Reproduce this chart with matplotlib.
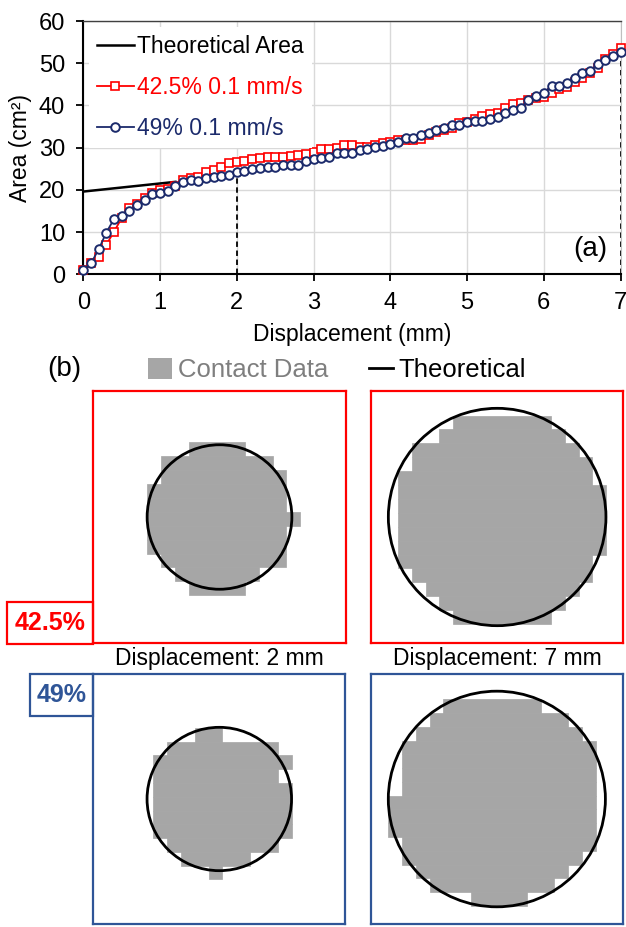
import matplotlib
matplotlib.use('Agg')
import numpy as np
import matplotlib.pyplot as plt
from matplotlib.patches import Patch, Circle, Rectangle
from matplotlib.lines import Line2D

plt.rcParams['font.family'] = ['Liberation Sans', 'DejaVu Sans']

# ---- panel (a) data: contact area vs displacement, one point every 0.1 mm
disp = np.round(np.arange(0, 7.01, 0.1), 1)
area_425 = [1.0, 2.6, 4.2, 7.0, 10.1, 13.3, 15.6, 16.7, 18.0, 19.2,
            20.0, 20.1, 20.8, 22.3, 22.7, 23.1, 24.3, 24.7, 25.5, 26.3,
            26.5, 26.9, 27.3, 27.5, 27.7, 27.9, 27.9, 28.0, 28.3, 28.5,
            29.0, 29.6, 29.6, 30.0, 30.6, 30.6, 30.2, 30.2, 30.6, 31.0,
            31.4, 31.8, 31.8, 31.8, 32.0, 33.0, 33.8, 34.2, 34.6, 35.8,
            36.1, 36.9, 37.5, 38.0, 38.3, 39.3, 40.3, 40.6, 41.3, 41.7,
            41.9, 42.9, 43.8, 44.4, 45.6, 46.6, 47.6, 48.8, 50.9, 52.3,
            53.7]
area_49 = [1.0, 2.6, 5.9, 9.9, 13.1, 13.8, 15.1, 16.3, 17.6, 19.0,
           19.2, 19.7, 20.9, 21.8, 22.3, 22.1, 22.7, 23.0, 23.4, 23.6,
           24.3, 24.5, 24.9, 25.1, 25.3, 25.3, 25.9, 26.0, 26.0, 26.8,
           27.2, 27.5, 27.9, 28.7, 28.7, 28.8, 29.4, 29.7, 30.1, 30.5,
           30.9, 31.4, 32.4, 32.4, 33.0, 33.4, 34.2, 34.6, 35.4, 35.4,
           36.0, 36.2, 36.2, 36.8, 37.3, 38.3, 38.9, 39.5, 41.4, 42.2,
           43.0, 44.6, 44.6, 45.2, 46.6, 47.8, 48.2, 49.8, 50.8, 51.7,
           52.6]
theory_x = [0.0, 1.2]
theory_y = [19.6, 21.9]
snap_disp = [2, 7]
snap_area = [23.6, 53.4]   # theoretical area at the two snapshots (cm2)

# ---- panel (b) data: contact pixels, (first col, last col + 1) per row, top row first
pitch = 0.527      # sensor pitch, cm
half_box = 4.78    # half width of each frame, cm
contact_425_2mm = [(3, 7), (1, 9), (1, 10), (0, 10), (0, 10), (0, 11),
                   (0, 10), (0, 10), (1, 10), (2, 8), (3, 7)]
contact_425_7mm = [(4, 11), (3, 12), (1, 13), (1, 14), (0, 14), (0, 15),
                   (0, 15), (0, 15), (0, 15), (0, 15), (0, 14), (1, 14),
                   (2, 13), (3, 12), (4, 11)]
contact_49_2mm = [(3, 5), (1, 9), (0, 10), (0, 9), (0, 10), (0, 10),
                  (0, 10), (0, 10), (1, 9), (2, 7), (4, 5)]
contact_49_7mm = [(4, 11), (3, 13), (2, 14), (1, 15), (1, 15), (1, 15),
                  (1, 15), (0, 15), (0, 15), (0, 15), (1, 15), (1, 14),
                  (2, 13), (3, 12), (6, 10)]
# grid corner relative to the indenter centre, in pixels (x, y downward)
grid_origin = {'425_2': (-5.19, -5.37), '425_7': (-7.15, -7.30),
               '49_2': (-4.77, -5.16), '49_7': (-7.85, -7.24)}

RED = '#ff0000'
NAVY = '#1b2a6b'
BLUE = '#2f5597'
GRAY = '#a6a6a6'

W, H = 626, 927
fig = plt.figure(figsize=(W / 100, H / 100), dpi=100)


def fig_rect(x0, y0, x1, y1):
    # pixel box (top-left origin) -> figure fraction rect
    return [x0 / W, 1 - y1 / H, (x1 - x0) / W, (y1 - y0) / H]


# ================= (a) =================
ax = fig.add_axes(fig_rect(83.3, 21, 620.6, 274.3))
ax.plot(theory_x, theory_y, color='black', lw=1.8, label='Theoretical Area', zorder=3)
ax.plot(disp, area_425, color=RED, lw=1.3, marker='s', ms=6.2, mfc='white',
        mec=RED, mew=1.2, label='42.5% 0.1 mm/s', zorder=4, clip_on=False)
ax.plot(disp, area_49, color=NAVY, lw=1.3, marker='o', ms=6.2, mfc='white',
        mec=NAVY, mew=1.4, label='49% 0.1 mm/s', zorder=5, clip_on=False)
ax.vlines(snap_disp, 0, snap_area, colors='black', linestyles=(0, (3, 2)), lw=1.3, zorder=2)

ax.set_xlim(0, 7)
ax.set_ylim(0, 60)
ax.set_xticks(range(0, 8))
ax.set_yticks(range(0, 61, 10))
ax.grid(color='#d9d9d9', lw=1)
ax.set_axisbelow(True)
for s in ['left', 'bottom']:
    ax.spines[s].set_linewidth(1.5)
ax.spines['top'].set_linewidth(1.0)
ax.spines['top'].set_color('#404040')
ax.spines['right'].set_color('#bfbfbf')
ax.tick_params(labelsize=17, length=5, width=1.3, pad=8)
ax.set_xlabel('Displacement (mm)', fontsize=16.5, labelpad=6)
ax.set_ylabel('Area (cm²)', fontsize=16.5, labelpad=5)
ax.text(0.944, 0.10, '(a)', transform=ax.transAxes, ha='center', va='center', fontsize=20)

leg = ax.legend(loc='upper left', bbox_to_anchor=(0.0, 1.0), fontsize=16.5,
                frameon=True, framealpha=1, handlelength=1.6, handletextpad=0.15,
                labelspacing=0.8, borderpad=0.35, borderaxespad=0.25, fancybox=False)
leg.get_frame().set_edgecolor('none')
for t, c in zip(leg.get_texts(), ['black', RED, NAVY]):
    t.set_color(c)

# ================= (b) =================
fig.text(64 / W, 1 - 369 / H, '(b)', fontsize=20, ha='center', va='center')
bleg = fig.legend(handles=[Patch(facecolor=GRAY, edgecolor='none'),
                           Line2D([0], [0], color='black', lw=2)],
                  labels=['Contact Data', 'Theoretical'],
                  loc='center left', bbox_to_anchor=(148 / W, 1 - 370 / H),
                  ncol=2, frameon=False, fontsize=18.5, handlelength=0.95,
                  handleheight=0.9, handletextpad=0.2, columnspacing=1.6,
                  borderpad=0, borderaxespad=0)
for t, c in zip(bleg.get_texts(), ['#7f7f7f', 'black']):
    t.set_color(c)

panels = [
    (fig_rect(93.3, 391, 345.7, 643), contact_425_2mm, grid_origin['425_2'], snap_area[0], RED),
    (fig_rect(371, 391, 623.3, 643), contact_425_7mm, grid_origin['425_7'], snap_area[1], RED),
    (fig_rect(93.3, 674, 345.3, 924), contact_49_2mm, grid_origin['49_2'], snap_area[0], BLUE),
    (fig_rect(371, 674, 622.7, 924), contact_49_7mm, grid_origin['49_7'], snap_area[1], BLUE),
]
for rect, rows, (ox, oy), area, col in panels:
    pa = fig.add_axes(rect)
    pa.set_xlim(-half_box, half_box)
    pa.set_ylim(-half_box, half_box)
    pa.set_xticks([])
    pa.set_yticks([])
    for s in pa.spines.values():
        s.set_color(col)
        s.set_linewidth(1.6)
    for r, (c0, c1) in enumerate(rows):
        pa.barh(-(oy + r + 0.5) * pitch, (c1 - c0) * pitch, left=(ox + c0) * pitch,
                height=pitch, color=GRAY, edgecolor=GRAY, lw=0.5)
    pa.add_patch(Circle((0, 0), np.sqrt(area / np.pi), fill=False, ec='black', lw=2.0))

# percentage tags
fig.add_artist(Rectangle((7.3 / W, 1 - 644 / H), 86 / W, 41.7 / H, transform=fig.transFigure,
                         fill=False, ec=RED, lw=1.6))
fig.text(50.3 / W, 1 - 623 / H, '42.5%', color=RED, fontsize=18, fontweight='bold',
         ha='center', va='center')
fig.add_artist(Rectangle((30 / W, 1 - 715.7 / H), 63.3 / W, 41.7 / H, transform=fig.transFigure,
                         fill=False, ec=BLUE, lw=1.6))
fig.text(62 / W, 1 - 695 / H, '49%', color=BLUE, fontsize=18, fontweight='bold',
         ha='center', va='center')

fig.text(219.5 / W, 1 - 659 / H, 'Displacement: 2 mm', fontsize=16.5, ha='center', va='center')
fig.text(497.2 / W, 1 - 659 / H, 'Displacement: 7 mm', fontsize=16.5, ha='center', va='center')

fig.savefig('out.png', dpi=100)
